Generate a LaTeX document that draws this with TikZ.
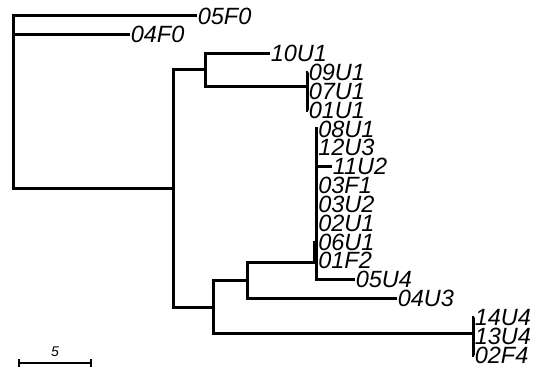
\documentclass[tikz,border=0pt]{standalone}
\usepackage{fontspec}
\setmainfont{Liberation Sans}
\begin{document}
\begin{tikzpicture}[x=1pt,y=-1pt,
  br/.style={line width=3pt,line join=miter,line cap=butt},
  leaf/.style={anchor=west,inner sep=0.6pt,font=\fontsize{23.5}{24}\selectfont\itshape},
  sbar/.style={line width=2.4pt}]
\useasboundingbox (0,0) rectangle (535,377);
% leaf labels
\node[leaf] (l05F0) at (197,16) {05F0};
\node[leaf] (l04F0) at (130,34.8) {04F0};
\node[leaf] (l10U1) at (270,53.7) {10U1};
\node[leaf] (l09U1) at (308,72.5) {09U1};
\node[leaf] (l07U1) at (308,91.3) {07U1};
\node[leaf] (l01U1) at (308,110.1) {01U1};
\node[leaf] (l08U1) at (317.5,129) {08U1};
\node[leaf] (l12U3) at (317.5,147.9) {12U3};
\node[leaf] (l11U2) at (332,166.7) {11U2};
\node[leaf] (l03F1) at (317.5,185.5) {03F1};
\node[leaf] (l03U2) at (317.5,204.4) {03U2};
\node[leaf] (l02U1) at (317.5,223.2) {02U1};
\node[leaf] (l06U1) at (317.5,242) {06U1};
\node[leaf] (l01F2) at (317.5,260.8) {01F2};
\node[leaf] (l05U4) at (355,279.6) {05U4};
\node[leaf] (l04U3) at (397,298.5) {04U3};
\node[leaf] (l14U4) at (474,317.3) {14U4};
\node[leaf] (l13U4) at (474,336.1) {13U4};
\node[leaf] (l02F4) at (474,355) {02F4};
% internal nodes
\coordinate (R) at (13,100);
\coordinate (A) at (173,188);
\coordinate (B) at (205,70);
\coordinate (C) at (307,87);
\coordinate (D) at (213,307);
\coordinate (E) at (247,280);
\coordinate (G) at (316.5,262);
\coordinate (H) at (314.5,251);
\coordinate (F) at (473,333);
% branches
\draw[br] (R) |- (l05F0);
\draw[br] (R) |- (l04F0);
\draw[br] (R) |- (A);
\draw[br] (A) |- (B);
\draw[br] (A) |- (D);
\draw[br] (B) |- (l10U1);
\draw[br] (B) |- (C);
\draw[br] (C) |- (l09U1);
\draw[br] (C) |- (l07U1);
\draw[br] (C) |- (l01U1);
\draw[br] (D) |- (E);
\draw[br] (D) |- (F);
\draw[br] (E) |- (G);
\draw[br] (E) |- (l04U3);
\draw[br] (G) |- (l08U1);
\draw[br] (G) |- (l12U3);
\draw[br] (G) |- (l11U2);
\draw[br] (G) |- (l03F1);
\draw[br] (G) |- (l03U2);
\draw[br] (G) |- (l02U1);
\draw[br] (G) |- (H);
\draw[br] (G) |- (l05U4);
\draw[br] (H) |- (l06U1);
\draw[br] (H) |- (l01F2);
\draw[br] (F) |- (l14U4);
\draw[br] (F) |- (l13U4);
\draw[br] (F) |- (l02F4);
% scale bar
\coordinate (s1) at (19,363);
\coordinate (s2) at (91,363);
\draw[sbar] (s1) -- (s2);
\draw[sbar] ([yshift=-4pt]s1) -- ([yshift=4pt]s1);
\draw[sbar] ([yshift=-4pt]s2) -- ([yshift=4pt]s2);
\node[font=\fontsize{14}{15}\selectfont\itshape,inner sep=0pt] (sl) at (55,352) {5};
\end{tikzpicture}
\end{document}
